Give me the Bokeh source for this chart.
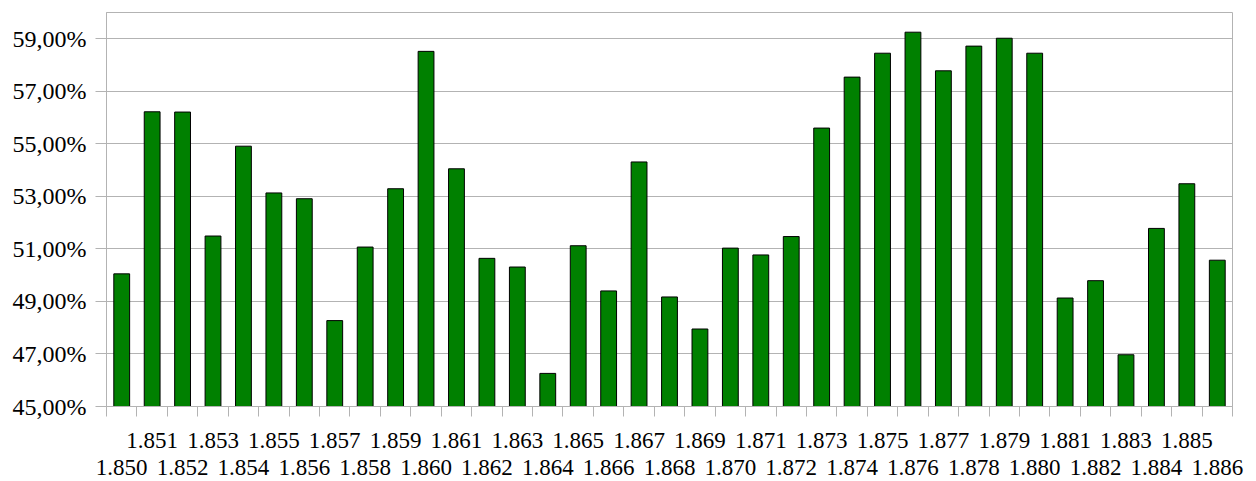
from bokeh.plotting import figure
from bokeh.models import Range1d, FixedTicker, LinearAxis, ColumnDataSource, Grid
from bokeh.embed import file_html
from bokeh.resources import INLINE

years = [str(y) for y in range(1850, 1887)]
year_labels = ["1." + y[1:] for y in years]
values = [50.05, 56.22, 56.21, 51.49, 54.91, 53.13, 52.91, 48.27, 51.07, 53.29,
          58.52, 54.05, 50.64, 50.31, 46.26, 51.12, 49.40, 54.31, 49.17, 47.95,
          51.03, 50.77, 51.47, 55.60, 57.54, 58.45, 59.25, 57.78, 58.72, 59.02,
          58.45, 49.13, 49.79, 46.97, 51.78, 53.48, 50.57]
y_ticks = [45, 47, 49, 51, 53, 55, 57, 59]
y_tick_labels = ["45,00%", "47,00%", "49,00%", "51,00%", "53,00%", "55,00%", "57,00%", "59,00%"]

FONT = "Liberation Serif"
GRID = "#b3b3b3"

idx = list(range(len(years)))
src = ColumnDataSource(dict(x=idx, top=values, year=years))

p = figure(width=1256, height=481, output_backend="svg", toolbar_location=None,
           x_range=Range1d(-0.5, len(years) - 0.5), y_range=Range1d(45, 60),
           x_axis_location=None, y_axis_location=None,
           min_border_left=106, min_border_right=24, min_border_top=12, min_border_bottom=75)
p.outline_line_color = GRID
p.outline_line_width = 1
p.background_fill_color = "white"
p.border_fill_color = "white"

p.vbar(x="x", top="top", bottom=45, width=0.52, source=src,
       fill_color="#008000", line_color="#000000", line_width=1)

# y axis
yax = LinearAxis(ticker=FixedTicker(ticks=y_ticks, minor_ticks=[]))
yax.major_label_overrides = {t: l for t, l in zip(y_ticks, y_tick_labels)}
yax.axis_line_color = GRID
yax.major_tick_line_color = GRID
yax.major_tick_out = 11
yax.major_tick_in = 0
yax.major_label_standoff = 9
yax.major_label_text_font = FONT
yax.major_label_text_font_size = "24px"
yax.major_label_text_color = "black"
p.add_layout(yax, "left")

# x axis row 1 (odd years) with boundary ticks
odd = [i for i in idx if i % 2 == 1]
even = [i for i in idx if i % 2 == 0]
bounds = [i - 0.5 for i in idx] + [len(years) - 0.5]
xax1 = LinearAxis(ticker=FixedTicker(ticks=odd, minor_ticks=bounds))
xax1.major_label_overrides = {i: year_labels[i] for i in odd}
xax1.axis_line_color = GRID
xax1.major_tick_out = 10
xax1.major_tick_in = 0
xax1.major_tick_line_color = None
xax1.minor_tick_out = 10
xax1.minor_tick_in = 0
xax1.minor_tick_line_color = GRID
xax1.major_label_standoff = 16
xax1.major_label_text_font = FONT
xax1.major_label_text_font_size = "23px"
xax1.major_label_text_color = "black"
p.add_layout(xax1, "below")

xax2 = LinearAxis(ticker=FixedTicker(ticks=even, minor_ticks=[]))
xax2.major_label_overrides = {i: year_labels[i] for i in even}
xax2.axis_line_color = None
xax2.major_tick_line_color = None
xax2.minor_tick_line_color = None
xax2.major_tick_out = 0
xax2.major_tick_in = 0
xax2.major_label_standoff = 9
xax2.major_label_text_font = FONT
xax2.major_label_text_font_size = "23px"
xax2.major_label_text_color = "black"
p.add_layout(xax2, "below")

p.xgrid.visible = False
p.ygrid.visible = False
g = Grid(dimension=1, ticker=yax.ticker, grid_line_color=GRID, grid_line_width=1)
p.add_layout(g)

open("out.html", "w").write(file_html(p, INLINE))
